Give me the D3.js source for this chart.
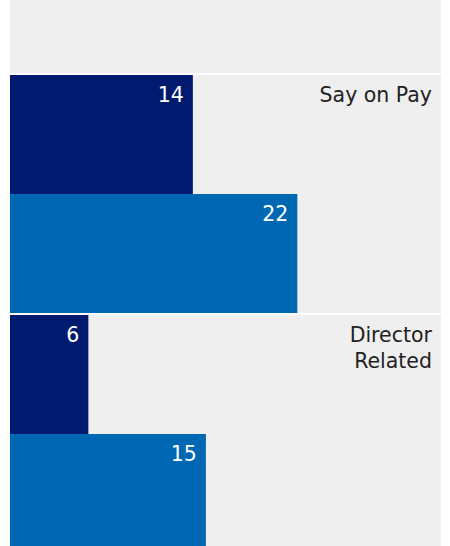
<!DOCTYPE html>
<html>
<head>
<meta charset="utf-8">
<script src="https://cdn.jsdelivr.net/npm/d3@7"></script>
<style>
  html, body { margin: 0; padding: 0; background: #ffffff; }
  svg { display: block; }
</style>
</head>
<body>
<svg id="chart" width="450" height="546"></svg>
<script>
const categories = ["Say on Pay", "Director Related"];
const categoryLines = [["Say on Pay"], ["Director", "Related"]];
const seriesNames = ["Series A", "Series B"];
const seriesA = [14, 6];
const seriesB = [22, 15];
const seriesColors = ["#001a70", "#0068b3"];

const W = 450, H = 546;
const svg = d3.select("#chart");

const panel = { left: 10, right: 441, top: 0 };
const x = d3.scaleLinear().domain([0, 33]).range([panel.left, panel.right]);
const y = d3.scaleBand().domain(categories).range([75, 75 + 240 * categories.length]).paddingInner(0);
const inner = d3.scaleBand().domain(seriesNames).range([0, y.bandwidth() - 2]);

const FONT = "DejaVu Sans, Verdana, sans-serif";
const FSIZE = 20.5;

// panel background
svg.append("rect")
  .attr("x", panel.left).attr("y", 0)
  .attr("width", panel.right - panel.left).attr("height", H)
  .attr("fill", "#efefef");

const data = categories.map((c, i) => ({
  cat: c,
  lines: categoryLines[i],
  values: seriesNames.map((s, j) => ({ s, v: [seriesA, seriesB][j][i], color: seriesColors[j] }))
}));

const g = svg.selectAll("g.cat").data(data).join("g")
  .attr("class", "cat")
  .attr("transform", d => `translate(0,${y(d.cat)})`);

// white separator above each band
g.append("rect")
  .attr("x", panel.left).attr("y", -2)
  .attr("width", panel.right - panel.left).attr("height", 2)
  .attr("fill", "#ffffff");

g.selectAll("rect.bar").data(d => d.values).join("rect")
  .attr("class", "bar")
  .attr("x", x(0))
  .attr("y", d => inner(d.s))
  .attr("width", d => x(d.v) - x(0))
  .attr("height", inner.bandwidth())
  .attr("fill", d => d.color);

g.selectAll("text.val").data(d => d.values).join("text")
  .attr("class", "val")
  .attr("x", d => x(d.v) - 9)
  .attr("y", d => inner(d.s) + 27)
  .attr("text-anchor", "end")
  .attr("fill", "#ffffff")
  .attr("font-family", FONT)
  .attr("font-size", FSIZE)
  .text(d => d.v);

g.append("text")
  .attr("class", "catlabel")
  .attr("text-anchor", "end")
  .attr("fill", "#222222")
  .attr("font-family", FONT)
  .attr("font-size", FSIZE)
  .selectAll("tspan").data(d => d.lines).join("tspan")
  .attr("x", panel.right - 9)
  .attr("y", (d, i) => 26.5 + i * 26.7)
  .text(d => d);
</script>
</body>
</html>
